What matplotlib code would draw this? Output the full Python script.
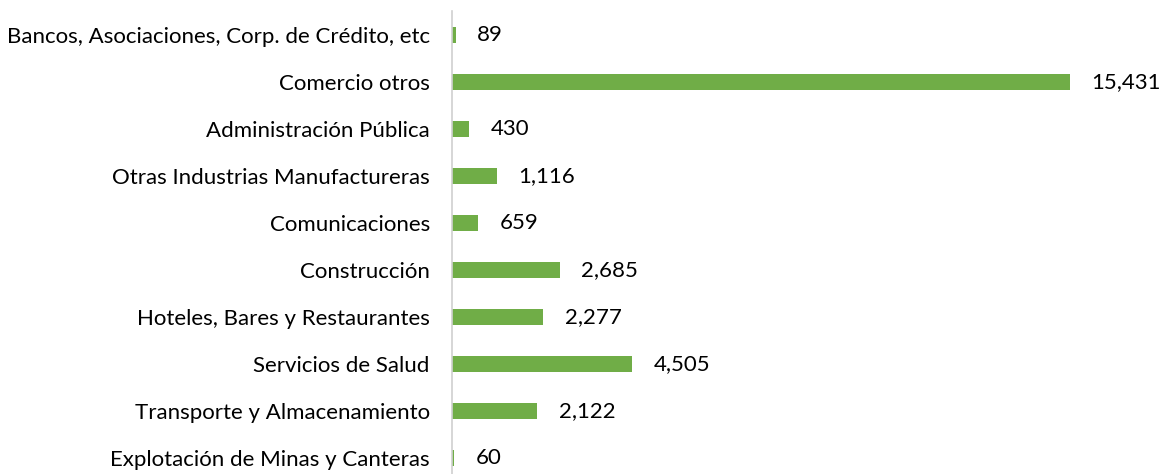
import matplotlib
matplotlib.use("Agg")
import matplotlib.pyplot as plt

categories = ["Bancos, Asociaciones, Corp. de Crédito, etc", "Comercio otros",
              "Administración Pública", "Otras Industrias Manufactureras",
              "Comunicaciones", "Construcción", "Hoteles, Bares y Restaurantes",
              "Servicios de Salud", "Transporte y Almacenamiento",
              "Explotación de Minas y Canteras"]
values = [89, 15431, 430, 1116, 659, 2685, 2277, 4505, 2122, 60]

plt.rcParams['font.family'] = ['Lato', 'DejaVu Sans']

fig = plt.figure(figsize=(11.61, 4.74), dpi=100)
ax = fig.add_axes([452/1161, -8/474, (1161-452)/1161, 471/474])

pos = list(range(len(categories)))
ax.barh(pos, values, height=0.34, color="#70AD47")
for p, v in zip(pos, values):
    ax.text(v + 540, p, f"{v:,}", va="center", ha="left", fontsize=16, color="#000000")

ax.set_ylim(9.5, -0.5)
ax.set_xlim(0, 17703)
ax.set_yticks(pos)
ax.set_yticklabels(categories, fontsize=16)
ax.tick_params(axis="y", length=0, pad=16)
ax.set_xticks([])
for s in ["top", "right", "bottom"]:
    ax.spines[s].set_visible(False)
ax.spines["left"].set_color("#D0D0D0")
ax.spines["left"].set_linewidth(1.2)

fig.savefig("out.png", dpi=100)
